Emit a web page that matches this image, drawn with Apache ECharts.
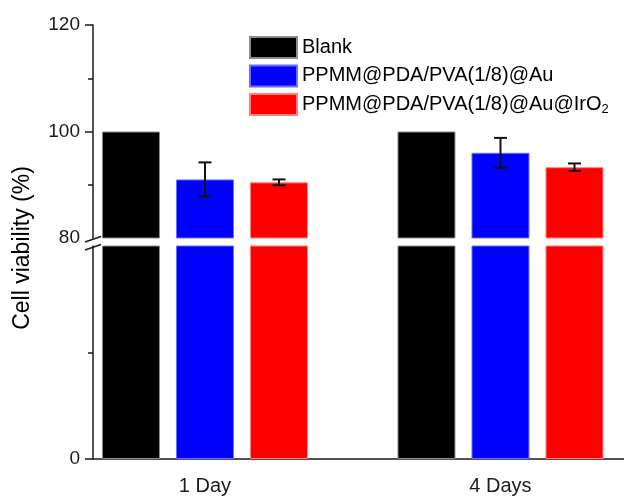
<!DOCTYPE html>
<html>
<head>
<meta charset="utf-8">
<script src="https://cdn.jsdelivr.net/npm/echarts@6/dist/echarts.min.js"></script>
<style>
  html, body { margin: 0; padding: 0; background: #fff; }
  #main { width: 624px; height: 496px; }
</style>
</head>
<body>
<div id="main"></div>
<script>
  // 数据
  var categories = ['1 Day', '4 Days'];
  var seriesNames = ['Blank', 'PPMM@PDA/PVA(1/8)@Au', 'PPMM@PDA/PVA(1/8)@Au@IrO2'];
  var blankMean = [100, 100];
  var auMean = [91.0, 96.0];
  var auErr = [3.2, 2.8];
  var irMean = [90.45, 93.3];
  var irErr = [0.55, 0.7];
  var upperLabels = [80, 100, 120];
  var lowerLabels = [0];

  var colors = ['#000000', '#0000ff', '#ff0000'];
  var borders = ['#8c8c8c', '#6e6eff', '#ff8080'];
  var axisColor = '#1a1a1a';
  var font = 'Liberation Sans, Arial, sans-serif';
  var barWidth = 58;
  var barGapPct = 0.276;
  var xMin = -0.379, xMax = 1.418;

  function pairs(vals) {
    return vals.map(function (v, i) { return [i, v]; });
  }
  function errPairs(vals, errs) {
    return vals.map(function (v, i) { return [i, v, errs[i]]; });
  }

  var means = [blankMean, auMean, irMean];

  var series = [];
  // 上下两段坐标各画一遍柱子 (断轴)
  [0, 1].forEach(function (g) {
    means.forEach(function (m, k) {
      series.push({
        name: seriesNames[k],
        type: 'bar',
        xAxisIndex: g,
        yAxisIndex: g,
        barWidth: barWidth,
        barGap: (barGapPct * 100) + '%',
        itemStyle: { color: colors[k], borderColor: borders[k], borderWidth: 1 },
        data: pairs(m)
      });
    });
  });

  // 误差棒
  function errorBar(offsetIndex) {
    return function (params, api) {
      var x = api.value(0), y = api.value(1), e = api.value(2);
      var dx = offsetIndex * barWidth * (1 + barGapPct);
      var top = api.coord([x, y + e]);
      var bot = api.coord([x, y - e]);
      var cx = top[0] + dx;
      var cap = 6.5;
      var st = { stroke: '#111', lineWidth: 2 };
      return {
        type: 'group',
        children: [
          { type: 'line', shape: { x1: cx, y1: top[1], x2: cx, y2: bot[1] }, style: st },
          { type: 'line', shape: { x1: cx - cap, y1: top[1], x2: cx + cap, y2: top[1] }, style: st },
          { type: 'line', shape: { x1: cx - cap, y1: bot[1], x2: cx + cap, y2: bot[1] }, style: st }
        ]
      };
    };
  }
  series.push({ type: 'custom', xAxisIndex: 0, yAxisIndex: 0, z: 5, renderItem: errorBar(0), data: errPairs(auMean, auErr) });
  series.push({ type: 'custom', xAxisIndex: 0, yAxisIndex: 0, z: 5, renderItem: errorBar(1), data: errPairs(irMean, irErr) });

  var labelStyle = { color: axisColor, fontSize: 19, fontFamily: font, margin: 13 };

  var myChart = echarts.init(document.getElementById('main'));
  myChart.setOption({
    animation: false,
    backgroundColor: '#fff',
    legend: {
      data: seriesNames,
      orient: 'vertical',
      left: 244,
      top: 31,
      icon: 'rect',
      itemWidth: 47,
      itemHeight: 21,
      itemGap: 5.5,
      formatter: function (name) {
        if (name.slice(-4) === 'IrO2') {
          return '{t|' + name.slice(0, -1) + '}{s|2}';
        }
        return '{t|' + name + '}';
      },
      textStyle: {
        color: '#000',
        fontSize: 20,
        fontFamily: font,
        rich: {
          t: { fontSize: 20, lineHeight: 21, verticalAlign: 'top', fontFamily: font },
          s: { fontSize: 13, lineHeight: 13, padding: [10, 0, 0, 0], fontFamily: font }
        }
      }
    },
    grid: [
      { left: 93, right: 0, top: 25, height: 213 },
      { left: 93, right: 0, top: 246, height: 213 }
    ],
    xAxis: [
      { gridIndex: 0, type: 'value', min: xMin, max: xMax, show: false },
      {
        gridIndex: 1, type: 'value', min: xMin, max: xMax,
        axisLine: { show: true, onZero: false, lineStyle: { color: axisColor, width: 1.5 } },
        axisTick: { show: false },
        splitLine: { show: false },
        axisLabel: {
          customValues: [0, 1],
          formatter: function (v) { return categories[Math.round(v)]; },
          color: axisColor, fontSize: 20, fontFamily: font, margin: 17
        }
      }
    ],
    yAxis: [
      {
        gridIndex: 0, type: 'value', min: 80, max: 120, interval: 20,
        axisLine: { show: true, onZero: false, lineStyle: { color: axisColor, width: 1.5 } },
        axisTick: { show: true, length: 8, customValues: [100, 120], lineStyle: { color: axisColor, width: 1.5 } },
        minorTick: { show: true, splitNumber: 2, length: 5, lineStyle: { color: axisColor, width: 1.5 } },
        splitLine: { show: false },
        axisLabel: Object.assign({ customValues: upperLabels }, labelStyle)
      },
      {
        gridIndex: 1, type: 'value', min: 0, max: 80, interval: 80,
        axisLine: { show: true, onZero: false, lineStyle: { color: axisColor, width: 1.5 } },
        axisTick: { show: true, length: 8, customValues: [0], lineStyle: { color: axisColor, width: 1.5 } },
        minorTick: { show: true, splitNumber: 2, length: 5, lineStyle: { color: axisColor, width: 1.5 } },
        splitLine: { show: false },
        axisLabel: Object.assign({ customValues: lowerLabels }, labelStyle)
      }
    ],
    graphic: [
      {
        type: 'text', x: 23, y: 248, rotation: Math.PI / 2,
        style: { text: 'Cell viability (%)', fontSize: 23, fill: '#000', fontFamily: font, align: 'center', verticalAlign: 'middle' }
      },
      // 断轴符号
      { type: 'line', shape: { x1: 85, y1: 242, x2: 101, y2: 236.5 }, style: { stroke: axisColor, lineWidth: 1.5 } },
      { type: 'line', shape: { x1: 85, y1: 250, x2: 101, y2: 244.5 }, style: { stroke: axisColor, lineWidth: 1.5 } }
    ],
    series: series
  });
</script>
</body>
</html>
